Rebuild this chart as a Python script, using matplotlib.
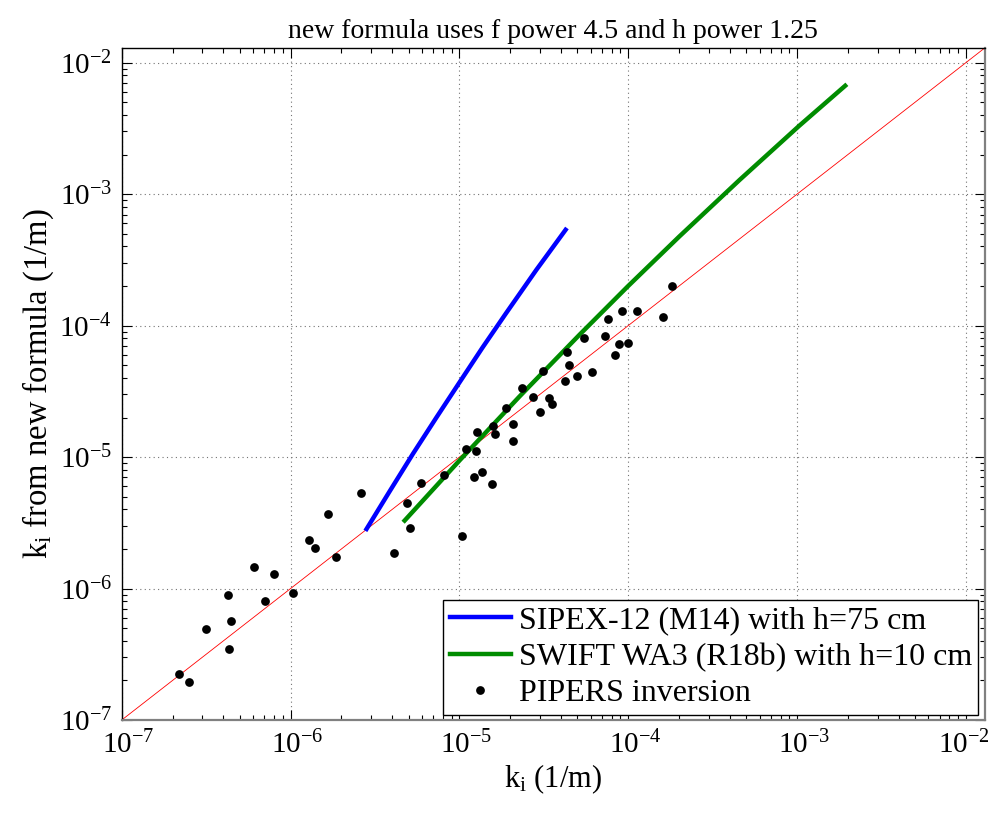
import matplotlib
matplotlib.use('Agg')
import matplotlib.pyplot as plt
import matplotlib.transforms as mtransforms
from matplotlib.ticker import LogLocator, NullFormatter

plt.rcParams['font.family'] = ['Liberation Serif', 'DejaVu Serif']
plt.rcParams['mathtext.fontset'] = 'custom'
plt.rcParams['mathtext.rm'] = 'Liberation Serif'
plt.rcParams['mathtext.it'] = 'Liberation Serif:italic'

# SIPEX-12 (M14) curve, h = 75 cm
sipex_ki = [2.82e-6, 3.87e-6, 5.31e-6, 7.31e-6, 1.01e-5, 1.37e-5, 1.88e-5,
            2.86e-5, 4.26e-5]
sipex_k1 = [2.84e-6, 5.51e-6, 1.06e-5, 2.00e-5, 3.76e-5, 6.80e-5, 1.23e-4,
            2.66e-4, 5.36e-4]

# SWIFT WA3 (R18b) curve, h = 10 cm
swift_ki = [4.74e-6, 1.004e-5, 2.27e-5, 5.15e-5, 9.95e-5, 2.01e-4, 4.56e-4,
            1.03e-3, 1.93e-3]
swift_k1 = [3.29e-6, 9.45e-6, 2.89e-5, 8.53e-5, 1.99e-4, 4.77e-4, 1.28e-3,
            3.31e-3, 6.68e-3]

# PIPERS inversion points
pipers_ki = [2.18e-7, 2.51e-7, 3.16e-7, 4.24e-7, 4.45e-7, 4.32e-7, 6.10e-7,
             8.00e-7, 7.08e-7, 1.04e-6, 1.28e-6, 1.39e-6, 1.66e-6, 1.86e-6,
             2.63e-6, 4.08e-6, 4.88e-6, 5.13e-6, 5.90e-6, 8.15e-6,
             1.035e-5, 1.10e-5, 1.25e-5, 1.28e-5, 1.22e-5, 1.37e-5, 1.57e-5,
             1.58e-5, 1.63e-5, 2.09e-5, 2.07e-5, 1.90e-5, 2.34e-5, 2.74e-5,
             3.00e-5, 3.41e-5, 3.56e-5, 3.14e-5, 4.22e-5, 4.32e-5, 4.44e-5,
             4.97e-5, 6.07e-5, 5.51e-5, 7.30e-5, 7.57e-5, 8.38e-5, 8.77e-5,
             1.00e-4, 9.23e-5, 1.13e-4, 1.60e-4, 1.81e-4]
pipers_k1 = [2.23e-7, 1.95e-7, 4.90e-7, 8.93e-7, 5.66e-7, 3.47e-7, 1.46e-6,
             1.30e-6, 8.09e-7, 9.27e-7, 2.34e-6, 2.05e-6, 3.70e-6, 1.74e-6,
             5.37e-6, 1.86e-6, 4.50e-6, 2.90e-6, 6.34e-6, 7.33e-6,
             2.53e-6, 1.15e-5, 1.11e-5, 1.55e-5, 7.11e-6, 7.71e-6, 6.22e-6,
             1.71e-5, 1.50e-5, 1.80e-5, 1.32e-5, 2.38e-5, 3.34e-5, 2.88e-5,
             2.22e-5, 2.84e-5, 2.53e-5, 4.51e-5, 3.82e-5, 6.32e-5, 5.04e-5,
             4.15e-5, 4.43e-5, 8.05e-5, 8.36e-5, 1.117e-4, 6.00e-5, 7.23e-5,
             7.40e-5, 1.30e-4, 1.30e-4, 1.156e-4, 1.99e-4]

one_to_one = [1e-7, 1e-1]
ax_lim = (1e-7, 1.3e-2)
decades = [1e-7, 1e-6, 1e-5, 1e-4, 1e-3, 1e-2]

fig = plt.figure(figsize=(9.92, 8.16), dpi=100)
ax = fig.add_axes([0.1227, 0.1176, 0.8703, 0.8239])

ax.plot(one_to_one, one_to_one, color='#ff0000', lw=0.6, zorder=2)
ax.plot(sipex_ki, sipex_k1, color='#0000ff', lw=3.2, zorder=3,
        label='SIPEX-12 (M14) with h=75 cm')
ax.plot(swift_ki, swift_k1, color='#008c00', lw=3.2, zorder=3,
        label='SWIFT WA3 (R18b) with h=10 cm')
ax.plot(pipers_ki, pipers_k1, 'o', color='black', ms=6.3, mew=0, zorder=4,
        label='PIPERS inversion')

ax.set_xscale('log')
ax.set_yscale('log')
ax.set_xlim(ax_lim)
ax.set_ylim(ax_lim)
ax.set_xticks(decades)
ax.set_yticks(decades)
for axis in (ax.xaxis, ax.yaxis):
    axis.set_minor_locator(LogLocator(base=10, subs=range(2, 10), numticks=20))
    axis.set_minor_formatter(NullFormatter())

ax.tick_params(which='both', direction='in', top=True, right=True,
               labelsize=21, width=0.8)
ax.tick_params(which='major', length=7)
ax.tick_params(which='minor', length=3.5)
ax.tick_params(axis='x', pad=8)
ax.tick_params(axis='y', pad=7)

# MATLAB keeps the "10" under the tick, exponent hanging to the right;
# the last label is pulled back so it stays inside the canvas
xlabels = ax.get_xticklabels()
for i, lab in enumerate(xlabels):
    dx = 7 if i < len(xlabels) - 1 else -2
    shift = mtransforms.ScaledTranslation(dx / 100, 0, fig.dpi_scale_trans)
    lab.set_transform(lab.get_transform() + shift)

ax.grid(True, which='major', color='0.45', linestyle=(0, (1, 3)), lw=0.8)
ax.set_axisbelow(True)

for side in ('left', 'top'):
    ax.spines[side].set_color('black')
    ax.spines[side].set_linewidth(1.0)
for side in ('bottom', 'right'):
    ax.spines[side].set_color('#808080')
    ax.spines[side].set_linewidth(1.6)

ax.set_xlabel(r'$\mathrm{k_i}$ (1/m)', fontsize=22, labelpad=2)
ax.set_ylabel(r'$\mathrm{k_i}$ from new formula (1/m)', fontsize=23.5, labelpad=2)
ax.set_title('new formula uses f power 4.5 and h power 1.25', fontsize=20, pad=7)

leg = ax.legend(loc='lower right', bbox_to_anchor=(0.992, 0.008), fontsize=23,
                frameon=True, fancybox=False, edgecolor='black',
                handlelength=1.9, handletextpad=0.25, labelspacing=0.22,
                borderpad=0.2, borderaxespad=0, markerscale=1.0)
leg.get_frame().set_linewidth(1.0)
leg.get_frame().set_alpha(1.0)

fig.savefig('out.png', dpi=100, facecolor='white')
